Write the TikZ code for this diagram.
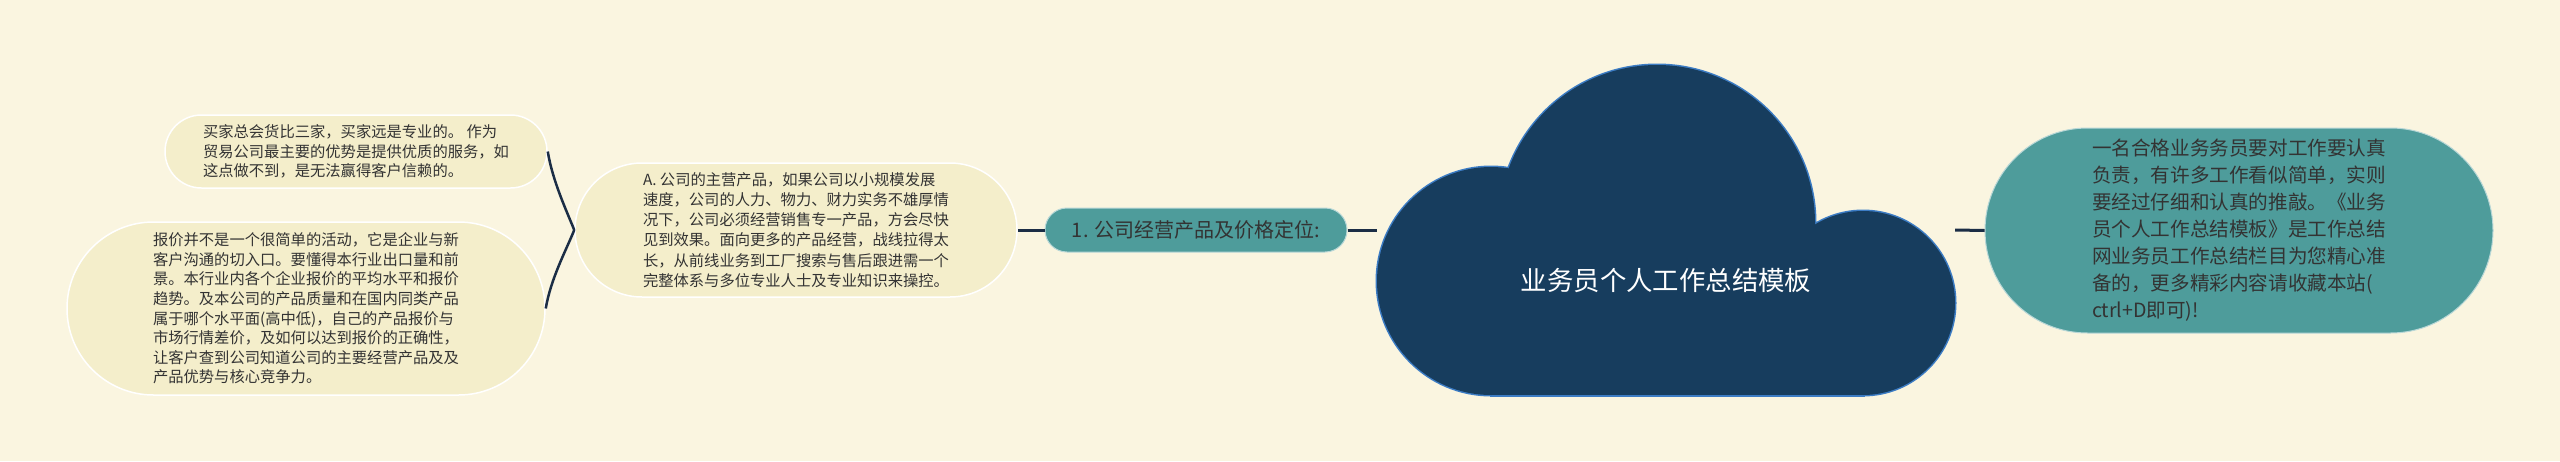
\documentclass[tikz,border=0pt]{standalone}
\usepackage{fontspec}
\setmainfont{Noto Sans CJK SC}
\usetikzlibrary{positioning}
\definecolor{bgcol}{HTML}{FAF5E0}
\definecolor{leafcol}{HTML}{F4EECB}
\definecolor{tealcol}{HTML}{4E9C9B}
\definecolor{cloudcol}{HTML}{173D5E}
\definecolor{cloudline}{HTML}{3C7CC4}
\definecolor{linkcol}{HTML}{1B2D45}
\definecolor{txtcol}{HTML}{333333}
\tikzset{
  leafbox/.style={draw=white, line width=1.5pt, fill=leafcol, text=txtcol, align=left,
    inner sep=0pt, font=\fontsize{15.3}{19.6}\selectfont},
  topicbox/.style={draw=white!60!tealcol, line width=1pt, fill=tealcol, text=txtcol,
    inner sep=0pt, font=\fontsize{20}{24}\selectfont},
  descbox/.style={draw=white!60!tealcol, line width=1pt, fill=tealcol, text=txtcol, align=left,
    inner sep=0pt, font=\fontsize{19.6}{27}\selectfont},
  link/.style={draw=linkcol, line width=3pt},
  bracelink/.style={draw=linkcol, line width=2.5pt},
  cloudedge/.style={draw=cloudline, line width=3pt, fill=cloudcol}
}
\begin{document}
\begin{tikzpicture}[x=1pt,y=-1pt]
\fill[bgcol] (0,0) rectangle (2560,461);
\useasboundingbox (0,0) rectangle (2560,461);

%cloud
\draw[cloudedge] (1491,281) circle (114pt);
\draw[cloudedge] (1657,223) circle (158pt);
\draw[cloudedge] (1863,303) circle (92pt);
\draw[cloudedge] (1491,300) rectangle (1863,395);
\fill[cloudcol] (1491,281) circle (114pt);
\fill[cloudcol] (1657,223) circle (158pt);
\fill[cloudcol] (1863,303) circle (92pt);
\fill[cloudcol] (1491,300) rectangle (1863,395);

%nodes
\node[minimum width=578pt, minimum height=330pt, inner sep=0pt] (cloud) at (1666,230) {};
\node[text=white, font=\fontsize{26.4}{30}\selectfont] (title) at (1666,281) {业务员个人工作总结模板};

\node[topicbox, minimum width=302pt, minimum height=44pt, rounded corners=22pt] (topic) at (1196,230)
  {1. 公司经营产品及价格定位:};

\node[leafbox, minimum width=442pt, minimum height=134pt, rounded corners=67pt,
  font=\fontsize{15.3}{20.3}\selectfont] (prod) at (796,230)
  {A. 公司的主营产品，如果公司以小规模发展\\
   速度，公司的人力、物力、财力实务不雄厚情\\
   况下，公司必须经营销售专一产品，方会尽快\\
   见到效果。面向更多的产品经营，战线拉得太\\
   长，从前线业务到工厂搜索与售后跟进需一个\\
   完整体系与多位专业人士及专业知识来操控。};

\node[leafbox, minimum width=382pt, minimum height=73pt, rounded corners=36.5pt] (buy) at (356,151.5)
  {买家总会货比三家，买家远是专业的。 作为\\
   贸易公司最主要的优势是提供优质的服务，如\\
   这点做不到，是无法赢得客户信赖的。};

\node[leafbox, minimum width=478pt, minimum height=173pt, rounded corners=86.5pt] (quote) at (306,308.5)
  {报价并不是一个很简单的活动，它是企业与新\\
   客户沟通的切入口。要懂得本行业出口量和前\\
   景。本行业内各个企业报价的平均水平和报价\\
   趋势。及本公司的产品质量和在国内同类产品\\
   属于哪个水平面(高中低)，自己的产品报价与\\
   市场行情差价，及如何以达到报价的正确性，\\
   让客户查到公司知道公司的主要经营产品及及\\
   产品优势与核心竞争力。};

\node[descbox, minimum width=508pt, minimum height=205pt, rounded corners=102.5pt] (desc) at (2239,230.5)
  {一名合格业务务员要对工作要认真\\
   负责，有许多工作看似简单，实则\\
   要经过仔细和认真的推敲。《业务\\
   员个人工作总结模板》是工作总结\\
   网业务员工作总结栏目为您精心准\\
   备的，更多精彩内容请收藏本站(\\
   ctrl+D即可)!};

%edges
\draw[link] (topic.east) -- (cloud.west);
\draw[link] (cloud.east) -- (desc.west);
\draw[link] (prod.east) -- (topic.west);
\draw[bracelink] (prod.west) .. controls +(-8,-20) and +(5,30) .. (buy.east);
\draw[bracelink] (prod.west) .. controls +(-8,20) and +(5,-30) .. (quote.east);

\end{tikzpicture}
\end{document}
